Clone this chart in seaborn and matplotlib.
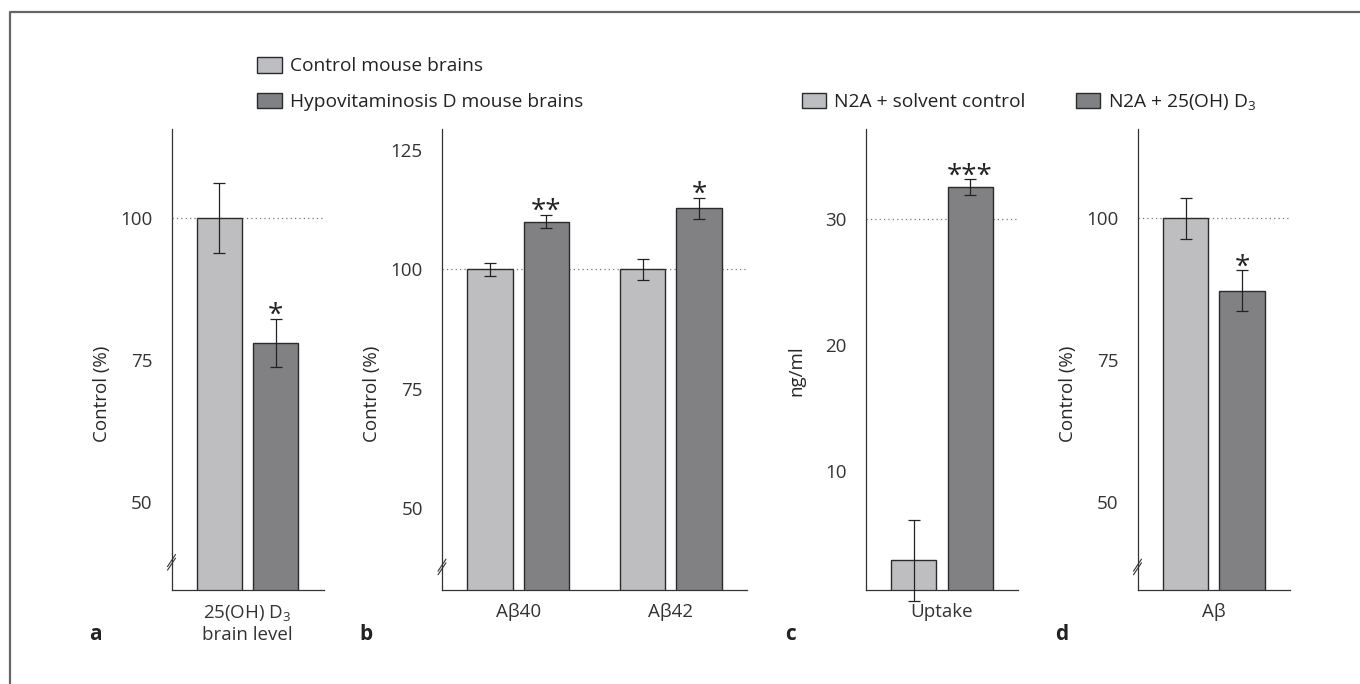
import numpy as np
import pandas as pd
import matplotlib
matplotlib.use("Agg")
import matplotlib.pyplot as plt
import seaborn as sns
from matplotlib.patches import Patch
from matplotlib.lines import Line2D

# legend groups
mouse_groups = ["Control mouse brains", "Hypovitaminosis D mouse brains"]
cell_groups = ["N2A + solvent control", "N2A + 25(OH) D$_3$"]

# panel a
a_cats = ["25(OH) D$_3$\nbrain level"]
a_ctrl = [100.0]
a_ctrl_err = [6.2]
a_hypo = [78.0]
a_hypo_err = [4.3]
a_stars = ["*"]

# panel b
b_cats = ["Aβ40", "Aβ42"]
b_ctrl = [100.0, 100.0]
b_ctrl_err = [1.4, 2.2]
b_hypo = [110.0, 112.8]
b_hypo_err = [1.4, 2.2]
b_stars = ["**", "*"]

# panel c
c_cats = ["Uptake"]
c_solv = [2.9]
c_solv_err = [3.2]
c_treat = [32.5]
c_treat_err = [0.6]
c_stars = ["***"]

# panel d
d_cats = ["Aβ"]
d_solv = [100.0]
d_solv_err = [3.6]
d_treat = [87.2]
d_treat_err = [3.6]
d_stars = ["*"]

LIGHT = "#bdbec2"
DARK = "#808185"
EDGE = "#2b2b2b"
AXC = "#333333"
FS = 13.5
LFS = 13.8

sns.set_style("white")
plt.rcParams["font.family"] = ["Open Sans", "DejaVu Sans"]
plt.rcParams["mathtext.fontset"] = "custom"
plt.rcParams["mathtext.rm"] = "Open Sans"
plt.rcParams["mathtext.it"] = "Open Sans:italic"
plt.rcParams["mathtext.bf"] = "Open Sans:bold"
plt.rcParams["text.color"] = "#222222"
plt.rcParams["xtick.color"] = AXC
plt.rcParams["ytick.color"] = AXC

W, H = 1360, 684
fig = plt.figure(figsize=(W / 100, H / 100), dpi=100)

TOP, BOT = 129, 590


def rect(x0, w):
    return [x0 / W, (H - BOT) / H, w / W, (BOT - TOP) / H]


def panel(ax, cats, names, v1, e1, v2, e2, stars, ylim, yticks, ylabel,
          ylab_y, ref, letter, brk):
    n = len(cats)
    df = pd.DataFrame({
        "cat": cats * 2,
        "group": [names[0]] * n + [names[1]] * n,
        "value": v1 + v2,
    })
    sns.barplot(data=df, x="cat", y="value", hue="group", hue_order=names,
                palette=[LIGHT, DARK], width=0.74, gap=0.2, edgecolor=EDGE,
                linewidth=1.0, errorbar=None, legend=False, ax=ax, zorder=2)

    for cont, vals, errs in zip(ax.containers, [v1, v2], [e1, e2]):
        xs = [b.get_x() + b.get_width() / 2 for b in cont]
        ax.errorbar(xs, vals, yerr=errs, fmt="none", ecolor="#222222",
                    elinewidth=0.9, capsize=4.2, capthick=0.9, zorder=3,
                    clip_on=False)
    # significance stars over the second group
    xs = [b.get_x() + b.get_width() / 2 for b in ax.containers[1]]
    for x, v, e, s in zip(xs, v2, e2, stars):
        ax.annotate(s, (x, v + e), xytext=(0, -3), textcoords="offset points",
                    ha="center", va="baseline", fontsize=20, color="#222222",
                    annotation_clip=False)

    ax.axhline(ref, color="#777777", lw=0.9, ls=(0, (1, 2.5)), zorder=1)

    ax.set_ylim(*ylim)
    ax.set_yticks(yticks)
    ax.set_yticklabels([str(t) for t in yticks], fontsize=FS)
    ax.set_xlim(-0.5, n - 0.5)
    ax.set_xticks(np.arange(n + 1) - 0.5)
    ax.set_xticklabels([""] * (n + 1))
    ax.set_xticks(np.arange(n), minor=True)
    ax.set_xticklabels(cats, minor=True, fontsize=FS)
    ax.tick_params(axis="x", which="major", length=8.6, width=0.9,
                   direction="out")
    ax.tick_params(axis="x", which="minor", length=0, pad=9.5)
    ax.tick_params(axis="y", length=8, width=0.9, direction="out", pad=5.8)

    for side in ["top", "right"]:
        ax.spines[side].set_visible(False)
    for side in ["left", "bottom"]:
        ax.spines[side].set_color(AXC)
        ax.spines[side].set_linewidth(0.9)

    ax.set_xlabel("")
    ax.set_ylabel(ylabel, fontsize=FS, va="center")
    wpx = ax.get_position().width * W
    ax.yaxis.set_label_coords(-70 / wpx, ylab_y)

    if brk is not None:
        hpx = BOT - TOP
        dx, dy = 4 / wpx, 6 / hpx
        for off in (-1.8 / hpx, 1.8 / hpx):
            ax.plot([-dx, dx], [brk - dy + off, brk + dy + off],
                    transform=ax.transAxes, color=AXC, lw=0.8,
                    clip_on=False, zorder=5)

    x_sp = ax.get_position().x0 * W
    fig.text((x_sp - 76) / W, 1 - 634 / H, letter, fontsize=15,
             fontweight="bold", ha="center", va="center", color="#222222")


ax_a = fig.add_axes(rect(171.5, 152))
ax_b = fig.add_axes(rect(442, 305))
ax_c = fig.add_axes(rect(866, 152))
ax_d = fig.add_axes(rect(1137.5, 152.5))

panel(ax_a, a_cats, mouse_groups, a_ctrl, a_ctrl_err, a_hypo, a_hypo_err,
      a_stars, (34.5, 115.7), [50, 75, 100], "Control (%)", 0.425, 100,
      "a", 0.06)
panel(ax_b, b_cats, mouse_groups, b_ctrl, b_ctrl_err, b_hypo, b_hypo_err,
      b_stars, (32.9, 129.4), [50, 75, 100, 125], "Control (%)", 0.425, 100,
      "b", 0.05)
panel(ax_c, c_cats, cell_groups, c_solv, c_solv_err, c_treat, c_treat_err,
      c_stars, (0.55, 37.1), [10, 20, 30], "ng/ml", 0.475, 30,
      "c", None)
panel(ax_d, d_cats, cell_groups, d_solv, d_solv_err, d_treat, d_treat_err,
      d_stars, (34.5, 115.7), [50, 75, 100], "Control (%)", 0.425, 100,
      "d", 0.05)

fs_px = LFS * 100 / 72
handles1 = [Patch(facecolor=LIGHT, edgecolor=EDGE, linewidth=1.0),
            Patch(facecolor=DARK, edgecolor=EDGE, linewidth=1.0)]
fig.legend(handles=handles1, labels=mouse_groups, loc="upper left",
           bbox_to_anchor=(257 / W, 1 - 57 / H), frameon=False,
           fontsize=LFS, handlelength=25 / fs_px, handleheight=17 / fs_px,
           handletextpad=0.42, labelspacing=0.9, borderpad=0,
           borderaxespad=0)
handles2 = [Patch(facecolor=LIGHT, edgecolor=EDGE, linewidth=1.0),
            Patch(facecolor=DARK, edgecolor=EDGE, linewidth=1.0)]
fig.legend(handles=handles2, labels=cell_groups, loc="upper left",
           bbox_to_anchor=(801.5 / W, 1 - 92 / H), frameon=False,
           fontsize=LFS, ncol=2, handlelength=24 / fs_px,
           handleheight=16 / fs_px, handletextpad=0.42, columnspacing=2.65,
           borderpad=0, borderaxespad=0)

# outer frame (left and top edges)
fig.add_artist(Line2D([9.5 / W, 9.5 / W, 1.0], [0.0, 1 - 12 / H, 1 - 12 / H],
                      transform=fig.transFigure, color="#666666", lw=1.6))

fig.savefig("out.png", dpi=100)
